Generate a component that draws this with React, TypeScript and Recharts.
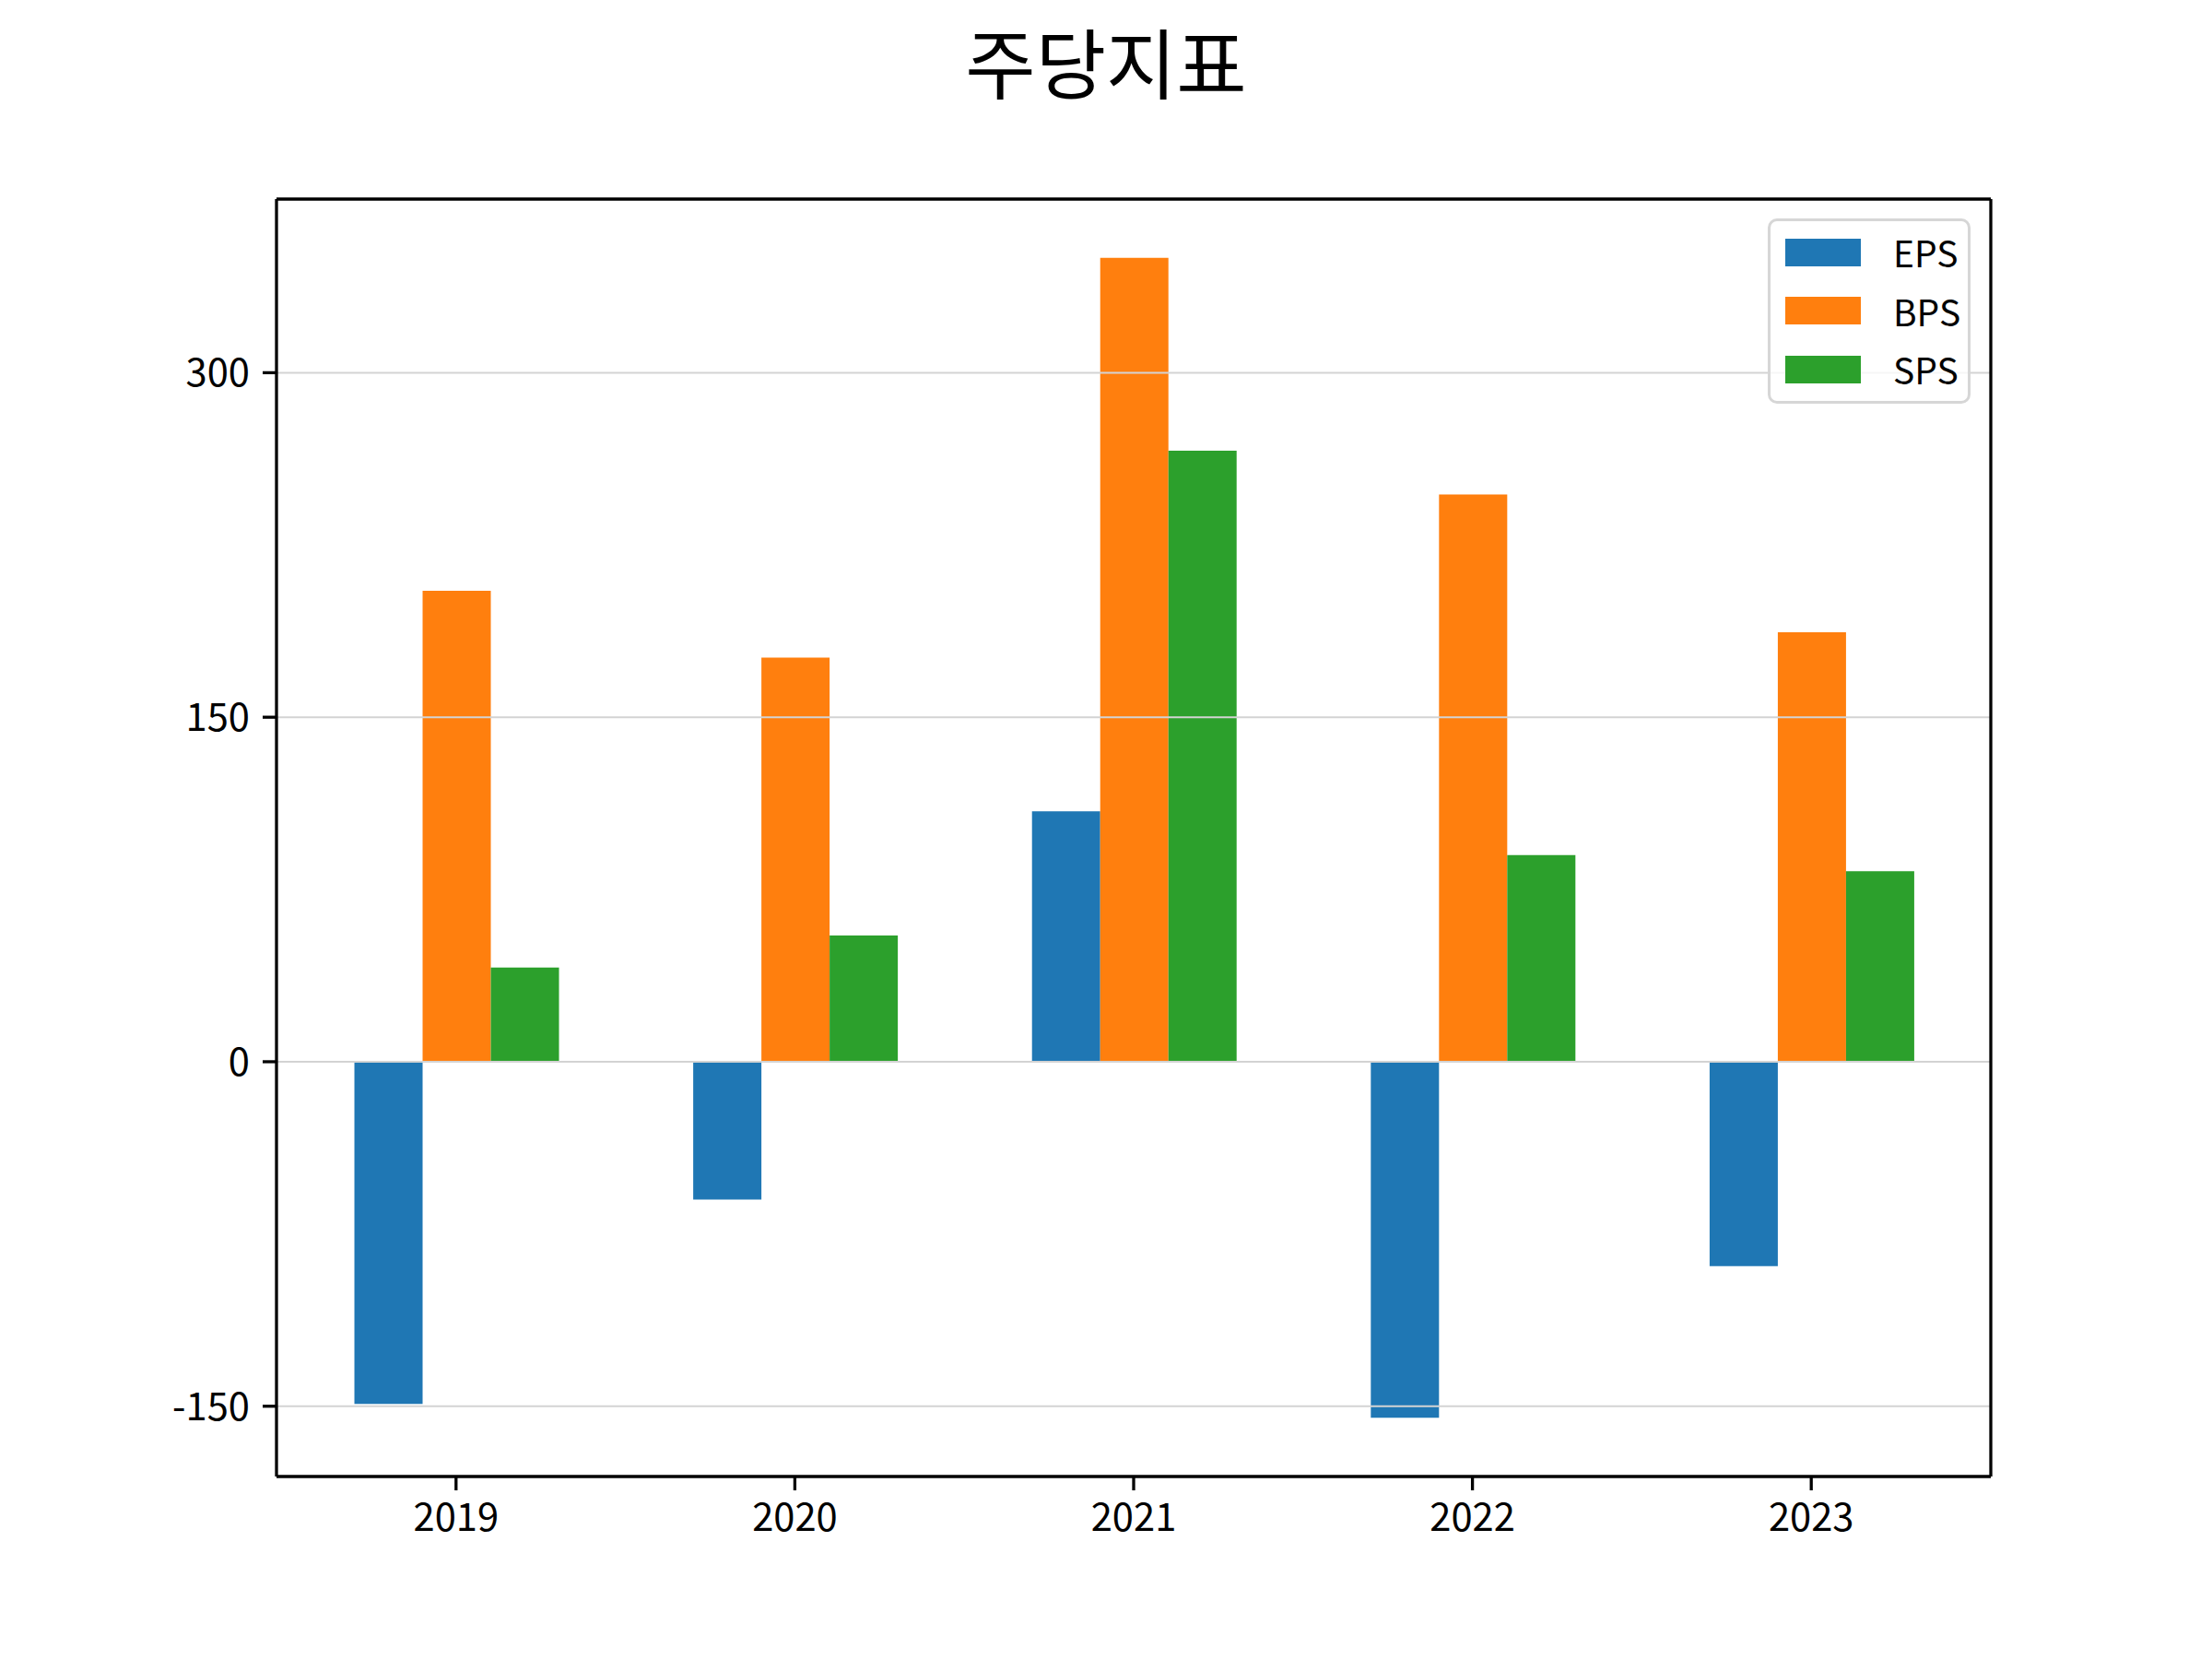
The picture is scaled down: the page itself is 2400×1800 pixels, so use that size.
import { BarChart, Bar, XAxis, YAxis, CartesianGrid } from "recharts";

const years = ["2019", "2020", "2021", "2022", "2023"];
const eps = [-149, -60, 109, -155, -89];
const bps = [205, 176, 350, 247, 187];
const sps = [41, 55, 266, 90, 83];
const yTicks = [-150, 0, 150, 300];

const series = [
  { key: "EPS", color: "#1f77b4", values: eps },
  { key: "BPS", color: "#ff7f0e", values: bps },
  { key: "SPS", color: "#2ca02c", values: sps },
];

const FONT = "'Noto Sans CJK KR', 'Noto Sans', sans-serif";
const TICK_FONT = 41.7;
const LINE = 3.3;

// matplotlib leaves 5% of the data range as margin on each side
const yDomain = [-180.6, 375.6];

const data = years.map((year, i) => {
  const row: Record<string, string | number> = { year };
  series.forEach((s) => (row[s.key] = s.values[i]));
  return row;
});

function LegendBox() {
  return (
    <div
      style={{
        position: "absolute", left: 1918, top: 237,
        boxSizing: "border-box", width: 220, height: 201, padding: "2px 0 0 16px",
        border: "3px solid #d6d6d6", borderRadius: 10, background: "rgba(255,255,255,0.8)",
        fontFamily: FONT, fontSize: 39, color: "#000",
      }}
    >
      {series.map((s) => (
        <div key={s.key} style={{ display: "flex", alignItems: "center", height: 63.5 }}>
          <span style={{ width: 82, height: 30, background: s.color, marginRight: 35 }} />
          <span style={{ lineHeight: 1 }}>{s.key}</span>
        </div>
      ))}
    </div>
  );
}

export default function App() {
  const tick = { fill: "#000", fontSize: TICK_FONT, fontFamily: FONT };
  const spine = { stroke: "#000", strokeWidth: LINE };
  return (
    <div style={{ position: "absolute", left: 0, top: 0, width: 2400, height: 1800, background: "#fff" }}>
      <div
        style={{
          position: "absolute", left: 0, top: 24, width: 2400, textAlign: "center",
          fontFamily: FONT, fontSize: 83, lineHeight: 1, color: "#000",
        }}
      >
        주당지표
      </div>
      <BarChart
        width={2400} height={1800} data={data}
        margin={{ top: 215, right: 239, bottom: 138, left: 200 }}
        barCategoryGap="20%" barGap={0}
      >
        <XAxis
          dataKey="year" height={60} padding={{ left: 11, right: 11 }}
          axisLine={spine} tickLine={spine} zIndex={1100}
          tickSize={15} tickMargin={14} tick={tick} interval={0}
        />
        <XAxis xAxisId="top" orientation="top" dataKey="year" height={1} zIndex={1100}
          axisLine={spine} tick={false} tickLine={false} />
        <YAxis
          type="number" domain={yDomain} ticks={yTicks} allowDataOverflow width={100}
          axisLine={spine} tickLine={spine} zIndex={1100}
          tickSize={15} tickMargin={14} tick={tick}
        />
        <YAxis yAxisId="right" orientation="right" width={1} domain={yDomain} ticks={yTicks}
          allowDataOverflow axisLine={spine} tick={false} tickLine={false} zIndex={1100} />
        {series.map((s) => (
          <Bar key={s.key} dataKey={s.key} name={s.key} fill={s.color} isAnimationActive={false} />
        ))}
        {/* grid sits above the bars, as in the source */}
        <CartesianGrid vertical={false} yAxisId={0} stroke="#d3d3d3" strokeWidth={2} zIndex={1000} />
      </BarChart>
      <LegendBox />
    </div>
  );
}
